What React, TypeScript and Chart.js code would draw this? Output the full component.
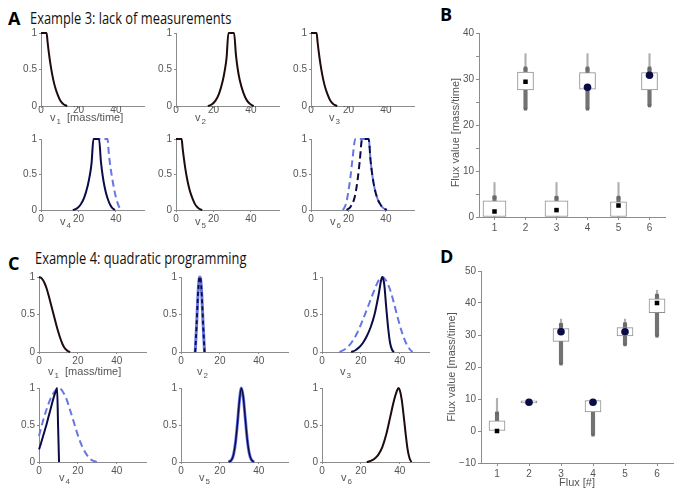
import React, { useEffect, useRef } from 'react';
import { Chart, registerables } from 'chart.js';

Chart.register(...registerables);

const FONT = "'Liberation Sans', Arial, Helvetica, sans-serif";
const TITLE_FONT = "'Open Sans', 'Noto Sans', sans-serif";
const AXIS_COLOR = '#8c8c8c';
const TICK_COLOR = '#555555';
const BLACK = '#1f0b0b';
const NAVY = '#0b0b48';
const LIGHT = '#6676e6';

// ---------- Panel A (Example 3) curves: [x, density] ----------
const A_v1_black = [[0, 1], [3, 1], [3.5, 0.88], [4, 0.77], [5, 0.58], [6, 0.43], [7, 0.31], [8, 0.22], [9, 0.15], [10, 0.09], [11, 0.05], [12, 0.025], [13, 0.01], [14, 0]];
const A_v2_black = [[17, 0], [19, 0.02], [21, 0.07], [23, 0.17], [25, 0.35], [26, 0.48], [27, 0.66], [28, 1], [31, 1], [32, 0.7], [33, 0.5], [34, 0.36], [36, 0.18], [38, 0.07], [40, 0.02], [41.5, 0]];
const A_v3_black = [[0, 1], [3, 1], [3.5, 0.88], [4, 0.77], [5, 0.58], [6, 0.43], [7, 0.31], [8, 0.22], [9, 0.15], [10, 0.09], [11, 0.05], [12, 0.025], [13, 0.01], [14, 0]];
const A_v4_navy = [[17, 0], [19, 0.02], [21, 0.07], [23, 0.17], [25, 0.35], [26, 0.48], [27, 0.66], [28, 1], [31, 1], [32, 0.68], [33, 0.47], [34, 0.32], [35, 0.21], [36, 0.13], [37, 0.07], [38, 0.03], [39.5, 0]];
const A_v4_light = [[28, 1], [35.5, 1], [36.2, 0.8], [37, 0.62], [38, 0.45], [39, 0.3], [40, 0.18], [41, 0.09], [42, 0.03], [43, 0]];
const A_v5_black = [[0, 1], [3, 1], [3.5, 0.88], [4, 0.77], [5, 0.58], [6, 0.43], [7, 0.31], [8, 0.22], [9, 0.15], [10, 0.09], [11, 0.05], [12, 0.025], [13, 0.01], [14, 0]];
const A_v6_navy = [[19, 0], [21, 0.04], [23, 0.15], [24, 0.27], [25, 0.45], [26, 0.68], [27.3, 1], [30.8, 1], [31.8, 0.7], [32.8, 0.48], [34, 0.3], [35.5, 0.16], [37, 0.08], [38.5, 0.03], [40.5, 0]];
const A_v6_light = [[17, 0], [18, 0.04], [19, 0.12], [20, 0.27], [21, 0.45], [22, 0.68], [23.7, 1], [30.8, 1], [31.8, 0.7], [32.8, 0.48], [34, 0.3], [35.5, 0.16], [37, 0.08], [38.5, 0.03], [40.5, 0]];

// ---------- Panel C (Example 4) curves ----------
const C_v1_black = [[0, 1], [1, 0.99], [2, 0.96], [3, 0.91], [4, 0.84], [5, 0.75], [6, 0.65], [7, 0.55], [8, 0.45], [9, 0.35], [10, 0.26], [11, 0.18], [12, 0.11], [13, 0.06], [14, 0.03], [15, 0.01], [16, 0]];
const C_v2_light = [[7.3, 0], [8, 0.35], [8.7, 0.75], [9.3, 0.97], [9.7, 1], [10.1, 0.97], [10.7, 0.75], [11.4, 0.35], [12.1, 0]];
const C_v2_navy = [[7.3, 0], [8, 0.35], [8.7, 0.75], [9.3, 0.97], [9.7, 1], [10.1, 0.97], [10.7, 0.75], [11.4, 0.35], [12.1, 0]];
const C_v3_light = [[9, 0], [12, 0.04], [15, 0.12], [18, 0.25], [21, 0.43], [24, 0.63], [27, 0.83], [29, 0.95], [31, 1], [33, 0.95], [35, 0.83], [37, 0.65], [39, 0.45], [41, 0.27], [43, 0.13], [45, 0.04], [46.5, 0]];
const C_v3_navy = [[15, 0], [17, 0.02], [19, 0.06], [21, 0.12], [23, 0.21], [25, 0.33], [27, 0.5], [29, 0.75], [30.5, 0.97], [31, 1], [32, 0.9], [33, 0.6], [34, 0.32], [35, 0.12], [36, 0.03], [37, 0]];
const C_v4_light = [[0, 0.35], [2, 0.55], [4, 0.72], [6, 0.86], [8, 0.95], [10, 1], [11, 0.99], [12, 0.96], [14, 0.86], [16, 0.7], [18, 0.53], [20, 0.36], [22, 0.22], [24, 0.12], [26, 0.05], [28, 0.015], [30, 0]];
const C_v4_navy = [[0, 0.17], [1, 0.25], [2, 0.34], [3, 0.43], [4, 0.52], [5, 0.62], [6, 0.72], [7, 0.82], [8, 0.91], [9, 0.98], [9.3, 1], [9.8, 0.5], [10.3, 0]];
const C_v5_light = [[24.5, 0], [26, 0.03], [27, 0.1], [28, 0.26], [29, 0.52], [30, 0.82], [31, 1], [32, 0.88], [33, 0.6], [34, 0.32], [35, 0.13], [36, 0.04], [37.5, 0]];
const C_v5_navy = [[24.5, 0], [26, 0.03], [27, 0.1], [28, 0.26], [29, 0.52], [30, 0.82], [31, 1], [32, 0.88], [33, 0.6], [34, 0.32], [35, 0.13], [36, 0.04], [37.5, 0]];
const C_v6_black = [[23, 0], [25, 0.015], [27, 0.045], [29, 0.1], [31, 0.2], [33, 0.37], [35, 0.6], [37, 0.83], [38.5, 0.96], [39.3, 1], [40, 0.97], [41, 0.84], [42, 0.62], [43, 0.38], [44, 0.17], [45, 0.05], [46, 0]];

const X_TICKS = [0, 20, 40];
const Y_TICKS = [0, 0.5, 1];

// ---------- Panel B box summaries ----------
const FLUX = ['1', '2', '3', '4', '5', '6'];
const B_boxLow = [null, 27.6, null, 27.8, 0, 27.6];
const B_boxHigh = [null, 31.5, null, 31.4, 3.3, 31.4];
const B_wideLow = [0, null, 0, null, null, null];
const B_wideHigh = [3.5, null, 3.5, null, null, null];
const B_thinLow = [0, 23.5, 0, 23.5, 0, 24.2];
const B_thinHigh = [7.5, 35.5, 7.5, 35.5, 7.5, 35.5];
const B_thickLow = [3.5, 23.5, 3.5, 23.5, 3.3, 24.2];
const B_thickHigh = [4.5, 32.3, 4.3, 32.3, 4.3, 32.3];
const B_capHigh = [4.3, 32.3, 4.2, 32.3, 4.2, 32.3];
const B_capLow = [null, 23.5, null, 23.5, null, 24.2];
const B_square = [1.2, 29.4, 1.5, null, 2.5, null];
const B_circle = [null, null, null, 28.2, null, 30.8];

// ---------- Panel D box summaries ----------
const D_boxLow = [0, 8.8, 28, 6, 29.7, 37];
const D_boxHigh = [3.2, 9.4, 32, 9.5, 32.3, 41.3];
const D_thinLow = [0, 8.3, 21, -1.2, 27, 29.7];
const D_thinHigh = [10.2, 9.8, 35, 9.5, 35, 44];
const D_thickLow = [0, 8.3, 21, -1.2, 27, 29.7];
const D_thickHigh = [5.7, 9.6, 33.3, 9.5, 33.5, 42.5];
const D_capHigh = [5.5, null, 33.2, null, 33.4, 42.3];
const D_capLow = [null, null, 21, -1.2, 27, 29.7];
const D_square = [0, null, null, null, null, 40];
const D_circle = [null, 9, 31, 9, 31, null];

type Curve = { pts: number[][]; color: string; width: number; dash?: number[] };

const gridOpt = { display: true, drawOnChartArea: false, drawTicks: true, tickLength: 2, color: AXIS_COLOR };
const borderOpt = { display: true, color: AXIS_COLOR, width: 1 };

function MiniPlot({ left, top, w, h, curves, xPad = 1 }: { left: number; top: number; w: number; h: number; curves: Curve[]; xPad?: number }) {
  const ref = useRef<HTMLCanvasElement>(null);
  const PL = 30, PT = 8, PR = 8, PB = 16;
  useEffect(() => {
    const chart = new Chart(ref.current as HTMLCanvasElement, {
      type: 'line',
      data: {
        datasets: curves.map((c, i) => ({
          data: c.pts.map(([x, y]) => ({ x, y })),
          borderColor: c.color,
          borderWidth: c.width,
          borderDash: c.dash || [],
          pointRadius: 0,
          cubicInterpolationMode: 'monotone',
          fill: false,
          clip: 6,
          order: curves.length - i,
        })),
      },
      options: {
        animation: false,
        responsive: false,
        events: [],
        layout: { padding: { top: PT, right: PR, left: 0, bottom: 0 } },
        plugins: { legend: { display: false }, tooltip: { enabled: false } },
        scales: {
          x: {
            type: 'linear', min: 0, max: 55,
            afterBuildTicks: (s: any) => { s.ticks = X_TICKS.map((v) => ({ value: v })); },
            afterFit: (s: any) => { s.height = PB; },
            grid: gridOpt, border: borderOpt,
            ticks: { color: TICK_COLOR, font: { family: FONT, size: 10 }, padding: xPad, maxRotation: 0, autoSkip: false },
          },
          y: {
            type: 'linear', min: 0, max: 1,
            afterBuildTicks: (s: any) => { s.ticks = Y_TICKS.map((v) => ({ value: v })); },
            afterFit: (s: any) => { s.width = PL; },
            grid: gridOpt, border: borderOpt,
            ticks: { color: TICK_COLOR, font: { family: FONT, size: 10 }, padding: 2, autoSkip: false, callback: (v: any) => String(v) },
          },
        },
      } as any,
    });
    return () => chart.destroy();
  }, []);
  return (
    <canvas ref={ref} width={PL + w + PR} height={PT + h + PB}
      style={{ position: 'absolute', left: left - PL, top: top - PT, width: PL + w + PR, height: PT + h + PB }} />
  );
}

type BoxData = {
  boxLow: (number | null)[]; boxHigh: (number | null)[];
  wideLow?: (number | null)[]; wideHigh?: (number | null)[];
  thinLow: number[]; thinHigh: number[]; thickLow: number[]; thickHigh: number[];
  capHigh: (number | null)[]; capLow: (number | null)[];
  square: (number | null)[]; circle: (number | null)[];
};

function pairs(lo: (number | null)[], hi: (number | null)[]) {
  return lo.map((l, i) => (l === null || hi[i] === null ? null : [l, hi[i]]));
}

function BoxPlot({ left, top, w, h, yw, xh, yMin, yMax, step, minor, xTitle, yTitle, d }: {
  left: number; top: number; w: number; h: number; yw: number; xh: number;
  yMin: number; yMax: number; step: number; minor: boolean; xTitle?: string; yTitle: string; d: BoxData;
}) {
  const ref = useRef<HTMLCanvasElement>(null);
  const PT = 10, PR = 10;
  useEffect(() => {
    const datasets: any[] = [
      { type: 'line', data: d.square, showLine: false, pointStyle: 'rect', pointRadius: 3.2, pointBackgroundColor: '#000', pointBorderColor: '#000', pointBorderWidth: 0, order: 0 },
      { type: 'line', data: d.circle, showLine: false, pointStyle: 'circle', pointRadius: 3.8, pointBackgroundColor: NAVY, pointBorderColor: NAVY, pointBorderWidth: 0, order: 0 },
      { type: 'line', data: d.capHigh, showLine: false, pointStyle: 'rect', pointRadius: 2.6, pointBackgroundColor: '#6a6a6a', pointBorderWidth: 0, order: 1 },
      { type: 'line', data: d.capLow, showLine: false, pointStyle: 'rect', pointRadius: 2.3, pointBackgroundColor: '#6a6a6a', pointBorderWidth: 0, order: 1 },
      { type: 'bar', data: pairs(d.boxLow, d.boxHigh), backgroundColor: '#ffffff', borderColor: '#8f8f8f', borderWidth: 1, borderSkipped: false, barThickness: 16, grouped: false, order: 2 },
      { type: 'bar', data: pairs(d.thickLow, d.thickHigh), backgroundColor: '#727272', borderWidth: 0, barThickness: 3.5, grouped: false, order: 3 },
      { type: 'bar', data: pairs(d.thinLow, d.thinHigh), backgroundColor: '#b0b0b0', borderWidth: 0, barThickness: 1.5, grouped: false, order: 4 },
    ];
    if (d.wideLow && d.wideHigh) {
      datasets.push({ type: 'bar', data: pairs(d.wideLow, d.wideHigh), backgroundColor: '#ffffff', borderColor: '#8f8f8f', borderWidth: 1, borderSkipped: false, barThickness: 23, grouped: false, order: 2 });
    }
    const chart = new Chart(ref.current as HTMLCanvasElement, {
      type: 'bar',
      data: { labels: FLUX, datasets },
      options: {
        animation: false,
        responsive: false,
        events: [],
        layout: { padding: { top: PT, right: PR, left: 0, bottom: 0 } },
        plugins: { legend: { display: false }, tooltip: { enabled: false } },
        scales: {
          x: {
            type: 'category', offset: true,
            afterFit: (s: any) => { s.height = xh; },
            grid: { ...gridOpt, tickLength: 3, offset: false }, border: borderOpt,
            ticks: { color: TICK_COLOR, font: { family: FONT, size: 10 }, padding: 2, maxRotation: 0 },
            title: xTitle ? { display: true, text: xTitle, color: TICK_COLOR, font: { family: FONT, size: 11 }, padding: { top: 0, bottom: 1 } } : { display: false },
          },
          y: {
            type: 'linear', min: yMin, max: yMax,
            afterFit: (s: any) => { s.width = yw; },
            grid: { ...gridOpt, tickLength: 3 }, border: borderOpt,
            ticks: {
              stepSize: step, color: TICK_COLOR, font: { family: FONT, size: 10 }, padding: 2, autoSkip: false,
              callback: (v: any) => (minor && v % 10 !== 0 ? '' : String(v).replace('-', '\u2212')),
            },
            title: { display: true, text: yTitle, color: TICK_COLOR, font: { family: FONT, size: 11 }, padding: { top: 4, bottom: 4 } },
          },
        },
      } as any,
    });
    return () => chart.destroy();
  }, []);
  return (
    <canvas ref={ref} width={yw + w + PR} height={PT + h + xh}
      style={{ position: 'absolute', left: left - yw, top: top - PT, width: yw + w + PR, height: PT + h + xh }} />
  );
}

function VLabel({ left, top, sub, extra }: { left: number; top: number; sub: string; extra?: string }) {
  return (
    <div style={{ position: 'absolute', left, top, font: `11px ${FONT}`, lineHeight: '11px', color: TICK_COLOR, whiteSpace: 'pre' }}>
      v<span style={{ fontSize: 8, position: 'relative', top: 3, marginLeft: 1 }}>{sub}</span>
      {extra ? <span>{'  ' + extra}</span> : null}
    </div>
  );
}

function PanelLetter({ left, top, text }: { left: number; top: number; text: string }) {
  return <div style={{ position: 'absolute', left, top, font: `bold 18px ${TITLE_FONT}`, lineHeight: '18px', color: '#000' }}>{text}</div>;
}

function PanelTitle({ left, top, text }: { left: number; top: number; text: string }) {
  return (
    <div style={{ position: 'absolute', left, top, font: `15.5px ${TITLE_FONT}`, lineHeight: '16px', color: '#111', whiteSpace: 'nowrap', transform: 'scaleX(0.83)', transformOrigin: 'left top' }}>
      {text}
    </div>
  );
}

export default function App() {
  const aw = 103, cw = 107;
  return (
    <div style={{ position: 'absolute', left: 0, top: 0, width: 685, height: 492, background: '#fff', overflow: 'hidden' }}>
      <PanelLetter left={8} top={9} text="A" />
      <PanelTitle left={30} top={10} text="Example 3: lack of measurements" />
      <PanelLetter left={440} top={5} text="B" />
      <PanelLetter left={8} top={254} text="C" />
      <PanelTitle left={35} top={250} text="Example 4: quadratic programming" />
      <PanelLetter left={440} top={247} text="D" />

      <MiniPlot left={41} top={33} w={aw} h={73} xPad={-4} curves={[{ pts: A_v1_black, color: BLACK, width: 2 }]} />
      <MiniPlot left={176} top={33} w={aw} h={73} xPad={-4} curves={[{ pts: A_v2_black, color: BLACK, width: 2 }]} />
      <MiniPlot left={311} top={33} w={aw} h={73} xPad={-4} curves={[{ pts: A_v3_black, color: BLACK, width: 2 }]} />
      <MiniPlot left={41} top={139} w={aw} h={71} curves={[
        { pts: A_v4_light, color: LIGHT, width: 2, dash: [7, 4] },
        { pts: A_v4_navy, color: NAVY, width: 2 },
      ]} />
      <MiniPlot left={176} top={139} w={aw} h={71} curves={[{ pts: A_v5_black, color: BLACK, width: 2 }]} />
      <MiniPlot left={311} top={139} w={aw} h={71} curves={[
        { pts: A_v6_light, color: LIGHT, width: 2, dash: [7, 4] },
        { pts: A_v6_navy, color: NAVY, width: 2, dash: [7, 4] },
      ]} />

      <MiniPlot left={39} top={277} w={cw} h={75} curves={[{ pts: C_v1_black, color: BLACK, width: 2 }]} />
      <MiniPlot left={181} top={277} w={cw} h={75} curves={[
        { pts: C_v2_light, color: LIGHT, width: 3 },
        { pts: C_v2_navy, color: NAVY, width: 1.8, dash: [4, 3] },
      ]} />
      <MiniPlot left={322} top={277} w={cw} h={75} curves={[
        { pts: C_v3_light, color: LIGHT, width: 2, dash: [7, 4] },
        { pts: C_v3_navy, color: NAVY, width: 2 },
      ]} />
      <MiniPlot left={39} top={388} w={cw} h={74} curves={[
        { pts: C_v4_light, color: LIGHT, width: 2, dash: [7, 4] },
        { pts: C_v4_navy, color: NAVY, width: 2 },
      ]} />
      <MiniPlot left={181} top={388} w={cw} h={74} curves={[
        { pts: C_v5_light, color: LIGHT, width: 3 },
        { pts: C_v5_navy, color: NAVY, width: 1.5 },
      ]} />
      <MiniPlot left={322} top={388} w={cw} h={74} curves={[{ pts: C_v6_black, color: BLACK, width: 2 }]} />

      <VLabel left={50} top={112} sub="1" extra="[mass/time]" />
      <VLabel left={195} top={112} sub="2" />
      <VLabel left={329} top={112} sub="3" />
      <VLabel left={60} top={216} sub="4" />
      <VLabel left={195} top={216} sub="5" />
      <VLabel left={330} top={216} sub="6" />
      <VLabel left={48} top={366} sub="1" extra="[mass/time]" />
      <VLabel left={197} top={366} sub="2" />
      <VLabel left={340} top={366} sub="3" />
      <VLabel left={59} top={472} sub="4" />
      <VLabel left={199} top={472} sub="5" />
      <VLabel left={341} top={472} sub="6" />

      <BoxPlot left={479} top={33} w={186} h={184} yw={34} xh={20} yMin={0} yMax={40} step={5} minor={true}
        yTitle={'Flux value [mass/time]     '}
        d={{ boxLow: B_boxLow, boxHigh: B_boxHigh, wideLow: B_wideLow, wideHigh: B_wideHigh, thinLow: B_thinLow, thinHigh: B_thinHigh, thickLow: B_thickLow, thickHigh: B_thickHigh, capHigh: B_capHigh, capLow: B_capLow, square: B_square, circle: B_circle }} />
      <BoxPlot left={481} top={271} w={192} h={192} yw={40} xh={28} yMin={-10} yMax={50} step={10} minor={false} xTitle="Flux [#]"
        yTitle="Flux value [mass/time]"
        d={{ boxLow: D_boxLow, boxHigh: D_boxHigh, thinLow: D_thinLow, thinHigh: D_thinHigh, thickLow: D_thickLow, thickHigh: D_thickHigh, capHigh: D_capHigh, capLow: D_capLow, square: D_square, circle: D_circle }} />
    </div>
  );
}
